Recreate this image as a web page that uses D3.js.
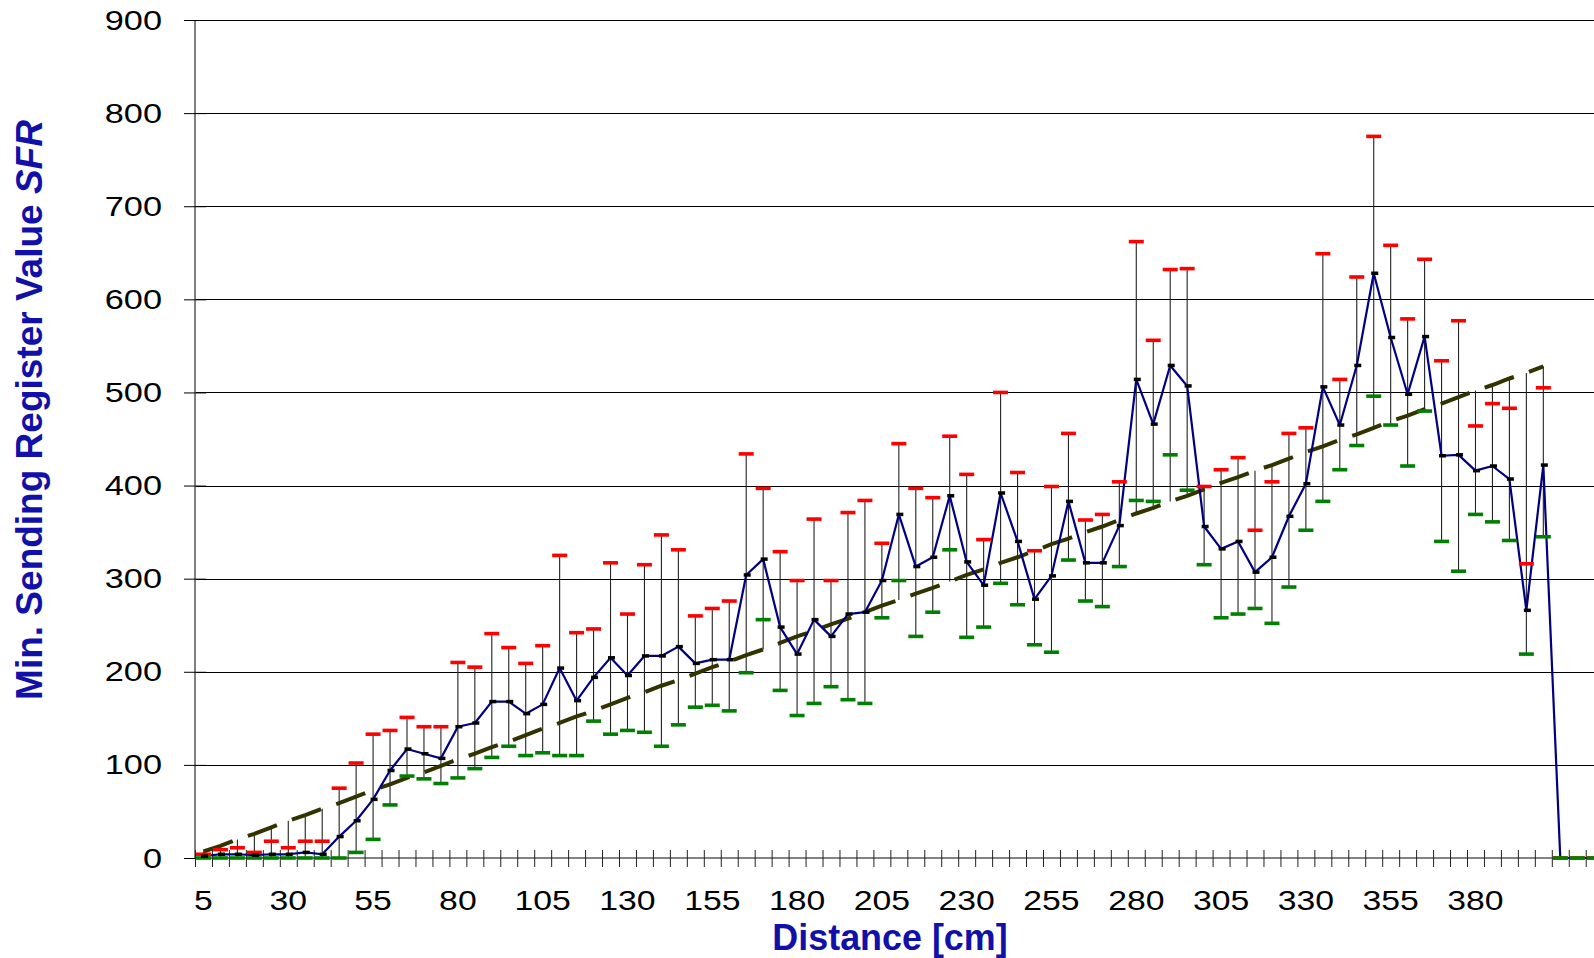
<!DOCTYPE html>
<html>
<head>
<meta charset="utf-8">
<script src="https://cdn.jsdelivr.net/npm/d3@7"></script>
<style>
  html, body { margin: 0; padding: 0; background: #fff; overflow: hidden; }
  svg { display: block; }
</style>
</head>
<body>
<svg id="chart" width="1594" height="958"></svg>
<script>
// Distance categories [cm]; the trailing blank slots carry the zero readings past 400 cm
const distanceLabels = [
  "5","10","15","20","25","30","35","40","45","50",
  "55","60","65","70","75","80","85","90","95","100",
  "105","110","115","120","125","130","135","140","145","150",
  "155","160","165","170","175","180","185","190","195","200",
  "205","210","215","220","225","230","235","240","245","250",
  "255","260","265","270","275","280","285","290","295","300",
  "305","310","315","320","325","330","335","340","345","350",
  "355","360","365","370","375","380","385","390","395","400",
  "","","",""
];

// Mean minimum SFR value per distance
const meanSFR = [
  2, 4, 4, 3, 4, 4, 6, 4, 23, 40,
  63, 94, 117, 112, 107, 141, 145, 168, 168, 155,
  165, 204, 169, 194, 215, 196, 217, 217, 227, 209,
  213, 213, 304, 321, 248, 219, 256, 238, 262, 264,
  298, 369, 313, 323, 389, 318, 293, 392, 340, 278,
  303, 383, 317, 317, 357, 514, 466, 529, 507, 356,
  332, 340, 307, 323, 367, 402, 506, 465, 529, 628,
  559, 498, 560, 432, 433, 416, 421, 407, 266, 422,
  0, 0, 0, 0
];

// Upper bound (red marks)
const upperSFR = [
  4, 9, 11, 6, 18, 11, 18, 18, 75, 102,
  133, 137, 151, 141, 141, 210, 205, 241, 226, 209,
  228, 325, 242, 246, 317, 262, 315, 347, 331, 260,
  268, 276, 434, 397, 329, 298, 364, 298, 371, 384,
  338, 445, 397, 387, 453, 412, 342, 500, 414, 330,
  399, 456, 363, 369, 404, 662, 556, 632, 633, 399,
  417, 430, 352, 404, 456, 462, 649, 514, 624, 775,
  658, 579, 643, 534, 577, 464, 488, 483, 316, 505,
  0, 0, 0, 0
];

// Lower bound (green marks)
const lowerSFR = [
  0, 0, 0, 0, 0, 0, 0, 0, 0, 6,
  20, 57, 88, 85, 80, 86, 96, 108, 120, 110,
  113, 110, 110, 147, 133, 137, 135, 120, 143, 162,
  164, 158, 199, 256, 180, 153, 166, 184, 170, 166,
  258, 298, 238, 264, 331, 237, 248, 295, 272, 229,
  221, 320, 276, 270, 313, 384, 383, 433, 395, 315,
  258, 262, 268, 252, 291, 352, 383, 417, 443, 496,
  465, 421, 480, 340, 308, 369, 361, 341, 219, 345,
  0, 0, 0, 0
];

// Linear trend series (dashed), 5..400 cm
const trendSFR = [
  7, 13, 20, 26, 33, 40, 46, 53, 59, 66,
  73, 79, 86, 92, 99, 106, 112, 119, 125, 132,
  139, 145, 152, 158, 165, 172, 178, 185, 191, 198,
  205, 211, 218, 224, 231, 238, 244, 251, 257, 264,
  271, 277, 284, 290, 297, 304, 310, 317, 323, 330,
  337, 343, 350, 356, 363, 370, 376, 383, 389, 396,
  403, 409, 416, 422, 429, 436, 442, 449, 455, 462,
  469, 475, 482, 488, 495, 502, 508, 515, 521, 528
];

const yTicks = [0, 100, 200, 300, 400, 500, 600, 700, 800, 900];
const labelEvery = 5;

// ---- layout ----
const W = 1594, H = 958;
const plotLeft = 195, plotTop = 20, plotBottom = 858;
const bandW = 16.96;
const n = distanceLabels.length;
const plotRight = plotLeft + n * bandW;

const svg = d3.select("#chart");
const FONT = "'Liberation Sans', Arial, Helvetica, sans-serif";
const TITLE_BLUE = "#1111aa";

const x = d3.scaleBand().domain(d3.range(n)).range([plotLeft, plotRight]).padding(0);
const cx = i => x(i) + x.bandwidth() / 2;
const xEdge = d3.scaleLinear().domain([0, n]).range([plotLeft, plotRight]);
const y = d3.scaleLinear().domain([0, 900]).range([plotBottom, plotTop]);

// ---- horizontal gridlines ----
svg.append("g")
  .selectAll("line")
  .data(yTicks.filter(v => v > 0))
  .join("line")
  .attr("x1", plotLeft).attr("x2", W)
  .attr("y1", d => Math.round(y(d)) + 0.5).attr("y2", d => Math.round(y(d)) + 0.5)
  .attr("stroke", "#000").attr("stroke-width", 1);

// ---- axis lines ----
svg.append("line")
  .attr("x1", plotLeft).attr("x2", plotLeft)
  .attr("y1", plotTop).attr("y2", plotBottom)
  .attr("stroke", "#808080").attr("stroke-width", 2);
svg.append("line")
  .attr("x1", plotLeft).attr("x2", W)
  .attr("y1", plotBottom).attr("y2", plotBottom)
  .attr("stroke", "#5a5a5a").attr("stroke-width", 1.6);

// ---- y axis: crossing ticks and labels ----
const yAxisG = svg.append("g")
  .attr("transform", `translate(${plotLeft + 11},0)`)
  .call(d3.axisLeft(y).tickValues(yTicks).tickSize(22).tickPadding(0).tickFormat(d3.format("d")));
yAxisG.select(".domain").remove();
yAxisG.selectAll(".tick line").attr("stroke", "#000").attr("stroke-width", 1);
yAxisG.selectAll(".tick text")
  .attr("x", null).attr("dy", null)
  .attr("transform", "translate(-44,9) scale(1.27,1)")
  .attr("text-anchor", "end")
  .attr("fill", "#000")
  .style("font-family", FONT).style("font-size", "27px");

// ---- x axis: tick marks on category boundaries ----
const xTickG = svg.append("g")
  .attr("transform", `translate(0,${plotBottom - 8})`)
  .call(d3.axisBottom(xEdge).tickValues(d3.range(n + 1)).tickSize(17).tickFormat(""));
xTickG.select(".domain").remove();
xTickG.selectAll(".tick line").attr("stroke", "#222").attr("stroke-width", 1);

// ---- x axis: category labels ----
const labelIdx = d3.range(n).filter(i => i % labelEvery === 0 && distanceLabels[i] !== "");
const xLabG = svg.append("g")
  .attr("transform", `translate(0,${plotBottom})`)
  .call(d3.axisBottom(x).tickValues(labelIdx).tickSize(0).tickFormat(i => distanceLabels[i]));
xLabG.select(".domain").remove();
xLabG.selectAll(".tick text")
  .attr("y", null).attr("dy", null)
  .attr("transform", "translate(0,52) scale(1.25,1)")
  .attr("fill", "#000")
  .style("font-family", FONT).style("font-size", "27px");

// ---- high-low lines spanning all series at each distance ----
const hiLo = d3.range(n).map(i => {
  const vals = [meanSFR[i], upperSFR[i], lowerSFR[i]];
  if (i < trendSFR.length) vals.push(trendSFR[i]);
  return { i, lo: d3.min(vals), hi: d3.max(vals) };
}).filter(d => d.hi > d.lo);

svg.append("g")
  .selectAll("line")
  .data(hiLo)
  .join("line")
  .attr("x1", d => cx(d.i)).attr("x2", d => cx(d.i))
  .attr("y1", d => y(d.lo)).attr("y2", d => y(d.hi))
  .attr("stroke", "#222").attr("stroke-width", 1.1);

// ---- dashed trend ----
svg.append("path")
  .datum(trendSFR)
  .attr("d", d3.line().x((d, i) => cx(i)).y(d => y(d)))
  .attr("fill", "none")
  .attr("stroke", "#333300")
  .attr("stroke-width", 4)
  .attr("stroke-dasharray", "31,16");

// ---- mean line ----
svg.append("path")
  .datum(meanSFR)
  .attr("d", d3.line().x((d, i) => cx(i)).y(d => y(d)))
  .attr("fill", "none")
  .attr("stroke", "#000080")
  .attr("stroke-width", 2.2)
  .attr("stroke-linejoin", "round");

// ---- bound marks ----
const capW = 15, capH = 3.6;
svg.append("g")
  .selectAll("rect")
  .data(upperSFR)
  .join("rect")
  .attr("x", (d, i) => cx(i) - capW / 2)
  .attr("y", d => y(d) - capH / 2)
  .attr("width", capW).attr("height", capH)
  .attr("fill", "#ff0000");

svg.append("g")
  .selectAll("rect")
  .data(lowerSFR)
  .join("rect")
  .attr("x", (d, i) => cx(i) - capW / 2)
  .attr("y", d => y(d) - capH / 2)
  .attr("width", capW).attr("height", capH)
  .attr("fill", "#008000");

// ---- mean markers ----
const mkW = 7, mkH = 3.5;
svg.append("g")
  .selectAll("rect")
  .data(meanSFR.map((v, i) => ({ v, i })).filter(d => d.i < trendSFR.length))
  .join("rect")
  .attr("x", d => cx(d.i) - mkW / 2 + 1)
  .attr("y", d => y(d.v) - mkH / 2)
  .attr("width", mkW).attr("height", mkH)
  .attr("fill", "#000");

// ---- axis titles ----
svg.append("text")
  .attr("transform", "translate(890,950) scale(0.97,1)")
  .attr("text-anchor", "middle")
  .attr("fill", TITLE_BLUE)
  .style("font-family", FONT).style("font-size", "37px").style("font-weight", "bold")
  .text("Distance [cm]");

const yTitle = svg.append("text")
  .attr("transform", "translate(42,410) rotate(-90)")
  .attr("text-anchor", "middle")
  .attr("fill", TITLE_BLUE)
  .style("font-family", FONT).style("font-size", "37px").style("font-weight", "bold");
yTitle.append("tspan").text("Min. Sending Register Value ");
yTitle.append("tspan").style("font-style", "italic").text("SFR");
</script>
</body>
</html>
